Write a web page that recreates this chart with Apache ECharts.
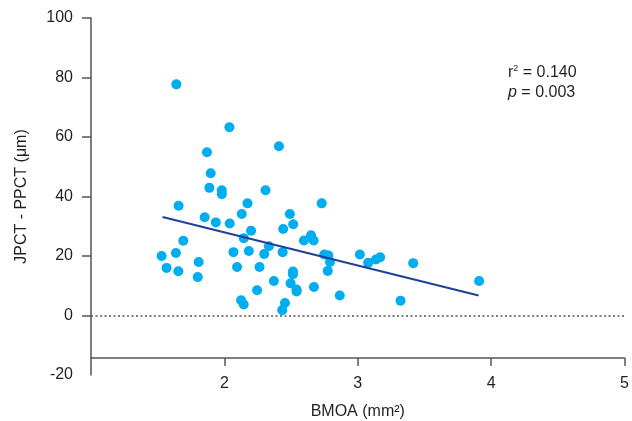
<!DOCTYPE html>
<html>
<head>
<meta charset="utf-8">
<script src="https://cdn.jsdelivr.net/npm/echarts@6/dist/echarts.min.js"></script>
<style>
  html, body { margin: 0; padding: 0; background: #fff; }
  #main { width: 632px; height: 421px; }
</style>
</head>
<body>
<div id="main"></div>
<script>
var myChart = echarts.init(document.getElementById('main'));

// BMOA (mm2) and JPCT - PPCT (um)
var bmoa = [1.638, 2.035, 1.867, 2.405, 1.895, 1.885, 1.978, 1.978, 2.305, 1.655,
            2.170, 2.725, 1.850, 1.933, 2.037, 1.690, 1.528, 1.635, 1.565, 1.653,
            1.805, 1.798, 2.065, 2.092, 2.127, 2.487, 2.512, 2.437, 2.197, 2.142,
            2.645, 2.665, 2.592, 2.180, 2.330, 2.295, 2.433, 2.260, 2.510, 2.510,
            2.367, 2.492, 2.537, 2.537, 2.667, 2.242, 2.122, 2.142, 2.450, 2.430,
            2.744, 2.774, 2.787, 2.770, 3.010, 3.072, 3.130, 3.162, 2.860, 3.314,
            3.409, 3.902];
var diff = [77.7, 63.3, 54.9, 56.9, 47.8, 42.9, 42.1, 40.8, 42.1, 36.9,
            37.7, 37.7, 33.0, 31.3, 30.9, 25.1, 20.0, 21.0, 16.0, 14.9,
            18.0, 12.9, 21.3, 16.3, 34.1, 34.1, 30.7, 29.1, 28.5, 26.0,
            27.0, 25.2, 25.2, 21.7, 23.3, 20.7, 21.3, 16.3, 14.8, 13.9,
            11.6, 10.8, 8.7, 8.1, 9.6, 8.5, 5.1, 3.7, 4.2, 1.8,
            20.5, 20.2, 18.0, 15.0, 20.5, 17.7, 18.8, 19.6, 6.7, 5.0,
            17.6, 11.6];

// regression line end points
var fitX = [1.535, 3.898];
var fitY = [33.1, 6.7];

var yTicks = [-20, 0, 20, 40, 60, 80, 100];
var xTicks = [1, 2, 3, 4, 5];

var font = '"Liberation Sans", Arial, Helvetica, sans-serif';
var axisColor = '#555';
var textColor = '#231f20';

var points = bmoa.map(function (x, i) { return [x, diff[i]]; });
var fitLine = fitX.map(function (x, i) { return [x, fitY[i]]; });

option = {
    animation: false,
    grid: [
        { left: 91, right: 6, top: 18, bottom: 46 },
        // second grid only carries the visible x axis, sitting a bit above the y minimum
        { left: 91, right: 6, top: 300, bottom: 62 }
    ],
    xAxis: [
        {
            gridIndex: 0, type: 'value',
            min: xTicks[0], max: xTicks[xTicks.length - 1], interval: 1,
            show: false
        },
        {
            gridIndex: 1, type: 'value',
            min: xTicks[0], max: xTicks[xTicks.length - 1], interval: 1,
            name: 'BMOA (mm²)',
            nameLocation: 'middle',
            nameGap: 46,
            nameTextStyle: { fontFamily: font, fontSize: 16, color: textColor },
            axisLine: { lineStyle: { color: axisColor, width: 1.5 } },
            axisTick: { show: true, length: 8, lineStyle: { color: axisColor, width: 1.5 } },
            axisLabel: {
                showMinLabel: false,
                margin: 18,
                fontFamily: font, fontSize: 16, color: textColor
            },
            splitLine: { show: false }
        }
    ],
    yAxis: [
        {
            gridIndex: 0, type: 'value',
            min: yTicks[0], max: yTicks[yTicks.length - 1], interval: 20,
            name: 'JPCT - PPCT (μm)',
            nameLocation: 'middle',
            nameGap: 61,
            nameTextStyle: { fontFamily: font, fontSize: 16, color: textColor },
            axisLine: { show: true, lineStyle: { color: axisColor, width: 1.5 } },
            axisTick: { show: true, length: 9, customValues: [0, 20, 40, 60, 80, 100],
                        lineStyle: { color: axisColor, width: 1.5 } },
            axisLabel: { margin: 18, fontFamily: font, fontSize: 16, color: textColor },
            splitLine: { show: false }
        },
        { gridIndex: 1, type: 'value', show: false, min: 0, max: 1 }
    ],
    graphic: [
        {
            type: 'text', left: 508, top: 64,
            style: {
                text: 'r{sup|2} = 0.140',
                font: '16px ' + font, fill: textColor,
                rich: { sup: { fontSize: 9, fontFamily: font, fill: textColor, verticalAlign: 'top', padding: [0, 0, 9, 0] } }
            }
        },
        {
            type: 'text', left: 508, top: 85,
            style: {
                text: '{i|p} = 0.003',
                font: '16px ' + font, fill: textColor,
                rich: { i: { fontStyle: 'italic', fontSize: 16, fontFamily: font, fill: textColor } }
            }
        }
    ],
    series: [
        {
            type: 'scatter',
            xAxisIndex: 0, yAxisIndex: 0,
            data: points,
            symbolSize: 10,
            itemStyle: { color: '#00aeef', opacity: 1 },
            z: 3,
            markLine: {
                silent: true,
                symbol: 'none',
                label: { show: false },
                lineStyle: { color: '#555', type: [2, 2.5], width: 1.5 },
                data: [{ yAxis: 0 }]
            }
        },
        {
            type: 'line',
            xAxisIndex: 0, yAxisIndex: 0,
            data: fitLine,
            symbol: 'none',
            lineStyle: { color: '#1f3f9a', width: 2 },
            z: 4
        }
    ]
};

option && myChart.setOption(option);
</script>
</body>
</html>
